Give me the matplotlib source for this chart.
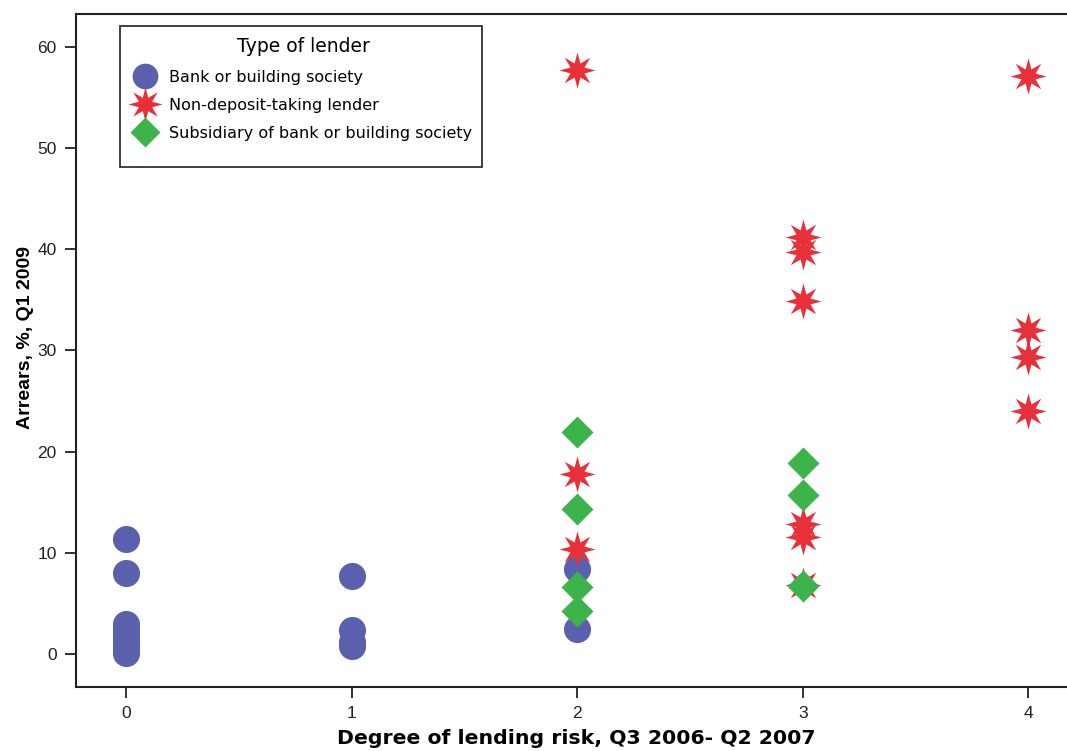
import matplotlib
matplotlib.use("Agg")
import matplotlib.pyplot as plt
from matplotlib.path import Path
from matplotlib.patches import Rectangle

# ---- data ----
bank_x = [0, 0, 0, 0, 0, 0, 0, 0, 0, 1, 1, 1, 1, 2, 2]
bank_y = [11.4, 8.0, 3.0, 2.5, 2.0, 1.5, 1.0, 0.5, 0.1, 7.7, 2.4, 1.2, 0.8, 8.4, 2.5]

nondep_x = [2, 2, 2, 3, 3, 3, 3, 3, 3, 4, 4, 4, 4]
nondep_y = [57.7, 17.8, 10.4, 41.2, 39.7, 34.9, 12.8, 11.6, 6.8, 57.1, 32.0, 29.3, 24.0]

subs_x = [2, 2, 2, 2, 3, 3, 3]
subs_y = [21.9, 14.3, 6.6, 4.2, 18.9, 15.7, 6.7]

series_labels = ["Bank or building society", "Non-deposit-taking lender",
                 "Subsidiary of bank or building society"]
legend_title = "Type of lender"
x_ticks = [0, 1, 2, 3, 4]
y_ticks = [0, 10, 20, 30, 40, 50, 60]
x_label = "Degree of lending risk, Q3 2006- Q2 2007"
y_label = "Arrears, %, Q1 2009"

plt.rcParams['font.family'] = ['Liberation Sans', 'DejaVu Sans']

W, H = 1067, 751
fig = plt.figure(figsize=(W / 100, H / 100), dpi=100)
left, right, top, bottom = 76, 1067, 14, 687
ax = fig.add_axes([left / W, 1 - bottom / H, (right - left) / W, (bottom - top) / H])

blue = "#5960AE"
red = "#E8303A"
green = "#3CB44B"
star = Path.unit_regular_star(8, 0.42)

ax.plot(bank_x, bank_y, 'o', ms=19.5, color=blue, mec='none', label=series_labels[0], zorder=3)
ax.plot(nondep_x, nondep_y, marker=star, ls='none', ms=26, color=red, mec='none',
        label=series_labels[1], zorder=4)
ax.plot(subs_x, subs_y, 'D', ms=16, color=green, mec='none', label=series_labels[2], zorder=5)

px_per_x = 225.6
x0 = 126
ax.set_xlim((left - x0) / px_per_x, (right - x0) / px_per_x)
px_per_y = 10.12
y0 = 654
ax.set_ylim(-(bottom - y0) / px_per_y, (y0 - top) / px_per_y)

ax.set_xticks(x_ticks)
ax.set_yticks(y_ticks)
ax.set_xticklabels([str(v) for v in x_ticks], fontsize=12.5)
ax.set_yticklabels([str(v) for v in y_ticks], fontsize=12.5)
ax.tick_params(axis='both', direction='out', length=8, width=1.3, colors='#222222', pad=6)

for s in ['left', 'bottom', 'top']:
    ax.spines[s].set_linewidth(1.5)
    ax.spines[s].set_color('#222222')
ax.spines['right'].set_visible(False)

ax.set_xlabel(x_label, fontsize=14.7, fontweight='bold', family=['DejaVu Sans'])
ax.xaxis.set_label_coords((576 - left) / (right - left), -(739 - bottom) / (bottom - top))
ax.xaxis.label.set_va('center')
ax.set_ylabel(y_label, fontsize=14, fontweight='bold')
ax.yaxis.set_label_coords(-(left - 25) / (right - left), (bottom - 338) / (bottom - top))
ax.yaxis.label.set_va('center')

leg = ax.legend(title=legend_title, loc='upper left',
                bbox_to_anchor=((135 - left) / (right - left), 1 - (37 - top) / (bottom - top)),
                prop={'family': 'DejaVu Sans', 'size': 11.5},
                title_fontproperties={'family': 'DejaVu Sans', 'size': 13.5},
                frameon=False, handletextpad=0.85, labelspacing=0.82,
                handlelength=1.3, borderaxespad=0, borderpad=0)
leg._legend_box.sep = 10
for h, ms in zip(leg.legend_handles, [19.5, 26, 16]):
    h.set_markersize(ms * 0.95)

fig.patches.append(Rectangle((120 / W, 1 - 167 / H), (482 - 120) / W, (167 - 26) / H,
                             transform=fig.transFigure, fill=False, edgecolor='#333333',
                             linewidth=1.3, figure=fig))

fig.savefig("out.png", dpi=100)
